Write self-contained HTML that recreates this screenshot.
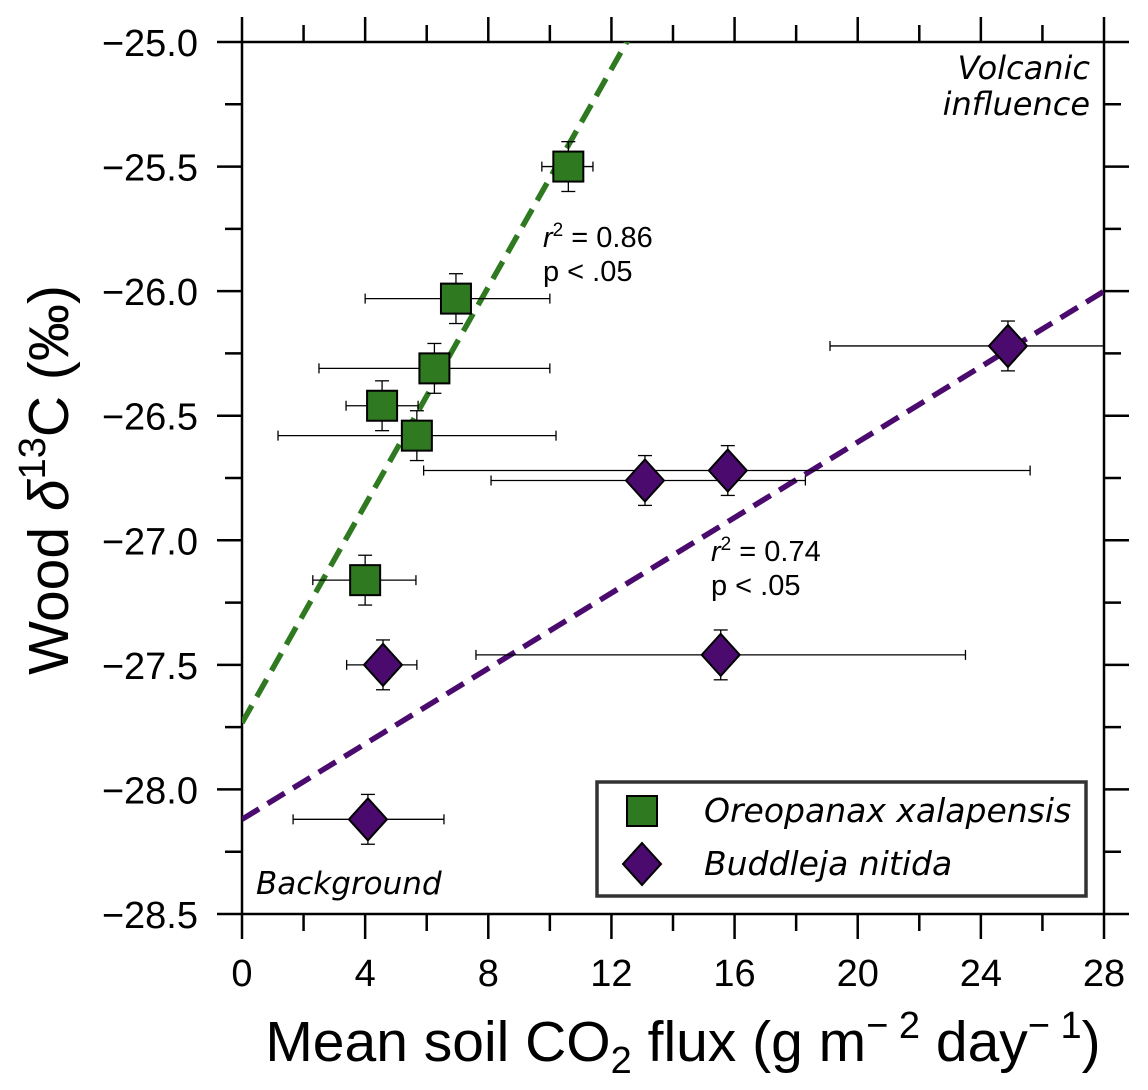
<!DOCTYPE html>
<html><head><meta charset="utf-8"><style>
html,body{margin:0;padding:0;background:#fff;}
svg{display:block;font-family:"Liberation Sans",Arial,sans-serif;}
</style></head><body>
<svg id="chart" width="1148" height="1090" viewBox="0 0 1148 1090" xmlns="http://www.w3.org/2000/svg"></svg>
<script>
const xTickLabels = [0,4,8,12,16,20,24,28];
const yTickLabels = [-25.0,-25.5,-26.0,-26.5,-27.0,-27.5,-28.0,-28.5];
const oreoX = [10.6, 6.95, 6.25, 4.55, 5.68, 4.0];
const oreoY = [-25.5, -26.03, -26.31, -26.46, -26.58, -27.16];
const oreoXLo = [9.74, 4.0, 2.5, 3.38, 1.17, 2.3];
const oreoXHi = [11.4, 10.0, 10.0, 5.72, 10.2, 5.65];
const oreoYErr = [0.1, 0.1, 0.1, 0.1, 0.1, 0.1];
const budX = [24.88, 15.78, 13.09, 4.58, 15.55, 4.09];
const budY = [-26.22, -26.72, -26.76, -27.5, -27.46, -28.12];
const budXLo = [19.1, 5.9, 8.09, 3.4, 7.6, 1.66];
const budXHi = [28.0, 25.6, 18.3, 5.68, 23.5, 6.56];
const budYErr = [0.1, 0.1, 0.1, 0.1, 0.1, 0.1];
const oreoFit = [-27.733, 0.2187];
const budFit = [-28.12, 0.0757];

const L=242,R=1104,T=42,B=914;
const xs=v=>L+(v-0)/(28-0)*(R-L);
const ys=v=>T+(-25-v)/3.5*(B-T);
const svg=document.getElementById('chart');
const NS='http://www.w3.org/2000/svg';
function el(tag,attrs,parent){const e=document.createElementNS(NS,tag);for(const k in attrs)e.setAttribute(k,attrs[k]);(parent||svg).appendChild(e);return e;}

const defs=el('defs',{});
const cp=el('clipPath',{id:'clip'},defs);
el('rect',{x:L,y:T,width:R-L,height:B-T},cp);

const tickG=el('g',{stroke:'#000','stroke-width':2.5});


for(let v=0;v<=28;v+=2){const x=xs(v);const len=(v%4===0)?25:17;
  el('line',{x1:x,y1:B,x2:x,y2:B+len},tickG);el('line',{x1:x,y1:T,x2:x,y2:T-len},tickG);}
for(let i=0;i<=14;i++){const v=-25-i*0.25;const y=ys(v);const len=(i%2===0)?25:17;
  el('line',{x1:L,y1:y,x2:L-len,y2:y},tickG);el('line',{x1:R,y1:y,x2:R+len,y2:y},tickG);}
const frame=el('rect',{x:L,y:T,width:R-L,height:B-T,fill:'none',stroke:'#000','stroke-width':2.5});



xTickLabels.forEach(v=>{const t=el('text',{x:xs(v),y:986,'font-size':38,'text-anchor':'middle'});t.textContent=v;
  
  });
yTickLabels.forEach(v=>{const t=el('text',{x:L-44,y:ys(v)+14,'font-size':38,'text-anchor':'end'});t.textContent='\u2212'+Math.abs(v).toFixed(1);
  
  });

const xt=el('text',{x:683,y:1061,'font-size':57,'text-anchor':'middle'});
xt.innerHTML='Mean soil CO<tspan font-size="38" dy="12">2</tspan><tspan dy="-12"> flux (g m</tspan><tspan font-size="38" dy="-23">\u2212 2</tspan><tspan dy="23"> day</tspan><tspan font-size="38" dy="-23">\u2212 1</tspan><tspan dy="23">)</tspan>';


const yt=el('text',{x:0,y:0,'font-size':57,'text-anchor':'middle',transform:'translate(68,480) rotate(-90)'});
yt.innerHTML='Wood <tspan font-style="italic">δ</tspan><tspan font-size="38" dy="-23">13</tspan><tspan dy="23">C (‰)</tspan>';



const fitG=el('g',{'clip-path':'url(#clip)'});
[[oreoFit,'#2f7a21','oreopanax-fit-line'],[budFit,'#4a0a6e','buddleja-fit-line']].forEach(([f,c,n])=>{
  const ln=el('line',{x1:xs(0),y1:ys(f[0]),x2:xs(28),y2:ys(f[0]+f[1]*28),stroke:c,'stroke-width':5.5,'stroke-dasharray':'20,10'},fitG);
  
  
});

function errbars(X,Y,lo,hi,ye,name){
  const g=el('g',{stroke:'#000','stroke-width':1.3,'clip-path':'url(#clip)'});
  
  
  X.forEach((x,i)=>{const y=ys(Y[i]);const x1=xs(lo[i]),x2=xs(hi[i]);
    el('line',{x1:x1,y1:y,x2:x2,y2:y},g);el('line',{x1:x1,y1:y-5,x2:x1,y2:y+5},g);el('line',{x1:x2,y1:y-5,x2:x2,y2:y+5},g);
    const ya=ys(Y[i]+ye[i]),yb=ys(Y[i]-ye[i]);const cx=xs(x);
    el('line',{x1:cx,y1:ya,x2:cx,y2:yb},g);el('line',{x1:cx-7,y1:ya,x2:cx+7,y2:ya},g);el('line',{x1:cx-7,y1:yb,x2:cx+7,y2:yb},g);});
}
errbars(oreoX,oreoY,oreoXLo,oreoXHi,oreoYErr,'oreopanax-error-bars');
errbars(budX,budY,budXLo,budXHi,budYErr,'buddleja-error-bars');
oreoX.forEach((x,i)=>{const r=el('rect',{x:xs(x)-15,y:ys(oreoY[i])-15,width:30,height:30,fill:'#2f7a21',stroke:'#000','stroke-width':2});
  
  });
budX.forEach((x,i)=>{const cx=xs(x),cy=ys(budY[i]);const p=el('polygon',{points:`${cx},${cy-21} ${cx+19},${cy} ${cx},${cy+21} ${cx-19},${cy}`,fill:'#4a0a6e',stroke:'#000','stroke-width':2});
  
  });

function txt(x,y,s,html,name,extra){const t=el('text',Object.assign({x:x,y:y,'font-size':s},extra||{}));t.innerHTML=html;
  
  return t;}
txt(543,247,29,'<tspan font-style="italic">r</tspan><tspan font-size="19" dy="-11">2</tspan><tspan dy="11"> = 0.86</tspan>','oreopanax-r2');
txt(543,281,29,'p &lt; .05','oreopanax-p');
txt(711,561,29,'<tspan font-style="italic">r</tspan><tspan font-size="19" dy="-11">2</tspan><tspan dy="11"> = 0.74</tspan>','buddleja-r2');
txt(711,595,29,'p &lt; .05','buddleja-p');
txt(1090,79,32,'Volcanic','volcanic-label',{'font-style':'italic','text-anchor':'end','font-family':'"DejaVu Sans",sans-serif'});
txt(1090,115,32,'influence','influence-label',{'font-style':'italic','text-anchor':'end','font-family':'"DejaVu Sans",sans-serif'});
txt(256,894,31,'Background','background-label',{'font-style':'italic','font-family':'"DejaVu Sans",sans-serif'});

const lg=el('g',{});


el('rect',{x:597,y:782,width:489,height:114,fill:'#fff',stroke:'#333','stroke-width':3.5},lg);
el('rect',{x:627,y:796,width:30,height:30,fill:'#2f7a21',stroke:'#000','stroke-width':2},lg);
el('polygon',{points:'642,843 661,864 642,885 623,864',fill:'#4a0a6e',stroke:'#000','stroke-width':2},lg);
const l1=el('text',{x:704,y:822,'font-size':33,'font-style':'italic','font-family':'"DejaVu Sans",sans-serif'},lg);l1.textContent='Oreopanax xalapensis';


const l2=el('text',{x:704,y:875,'font-size':33,'font-style':'italic','font-family':'"DejaVu Sans",sans-serif'},lg);l2.textContent='Buddleja nitida';


</script>
</body></html>
